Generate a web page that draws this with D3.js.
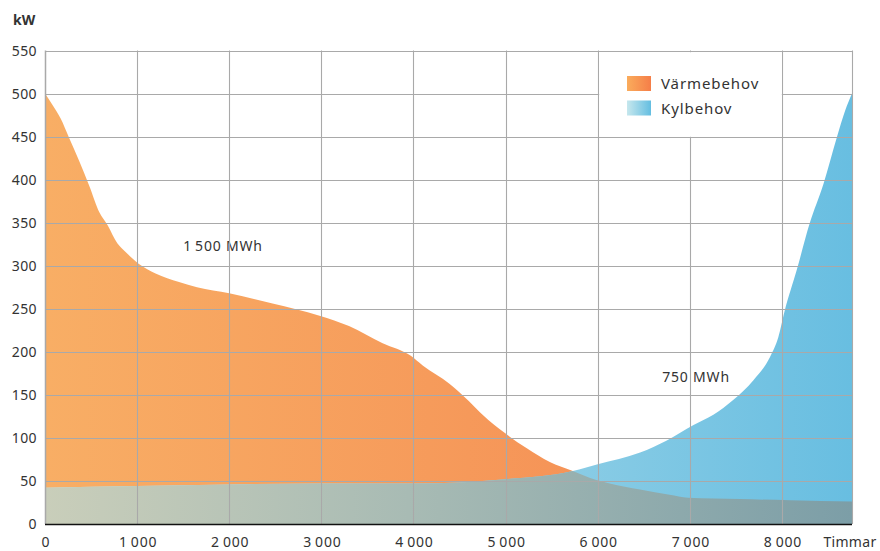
<!DOCTYPE html>
<html>
<head>
<meta charset="utf-8">
<script src="https://cdn.jsdelivr.net/npm/d3@7"></script>
<style>
  body { margin: 0; background: #fff; }
  text { font-family: "Noto Sans", "Open Sans", sans-serif; fill: #333; }
</style>
</head>
<body>
<div id="chart"></div>
<script>
// Värmebehov (heating) duration curve
const heatHours = [0, 80, 170, 260, 370, 480, 590, 680, 785, 875, 1020, 1200, 1455, 1650, 2000, 2470, 2980, 3300, 3665, 3975, 4100, 4390, 4600, 4750, 5000, 5230, 5480, 5715, 5985, 6130, 6460, 6780, 6980, 7545, 8090, 8760];
const heatKW    = [500, 487, 471, 449, 422, 393, 362, 347, 326, 316, 302, 291, 281, 275, 268, 256, 242, 230, 210, 195, 184, 163, 143, 127, 105, 88, 72, 62, 51, 47, 40, 34, 30.5, 29, 27.5, 26];

// Kylbehov (cooling) duration curve
const coolHours = [0, 1000, 2000, 3000, 4000, 5000, 5730, 6000, 6460, 6750, 7040, 7255, 7470, 7690, 7870, 7960, 8030, 8160, 8300, 8450, 8595, 8685, 8760];
const coolKW    = [42, 44, 46, 47, 47, 52, 61.5, 69.5, 83, 97, 115, 127, 144, 167, 194, 217, 248, 295, 349, 395, 449, 480, 500];

const yTicks = [0, 50, 100, 150, 200, 250, 300, 350, 400, 450, 500, 550];
const xTicks = [0, 1000, 2000, 3000, 4000, 5000, 6000, 7000, 8000];
const xGrid  = [1000, 2000, 3000, 4000, 5000, 6000, 7000, 8000, 8760];
const legendLabels = ["Värmebehov", "Kylbehov"];
const annotations = [
  { text: "1\u2009500 MWh", h: 1500, v: 317 },
  { text: "750 MWh", h: 6700, v: 165 }
];

const width = 880, height = 551;
const svg = d3.select("#chart").append("svg")
  .attr("width", width)
  .attr("height", height);

const x = d3.scaleLinear().domain([0, 8760]).range([45, 852]);
const y = d3.scaleLinear().domain([0, 550]).range([524, 50.5]);

const heat = heatHours.map((h, i) => ({ h, v: heatKW[i] }));
const cool = coolHours.map((h, i) => ({ h, v: coolKW[i] }));

// gradients
const defs = svg.append("defs");
function grad(id, stops, x1, x2) {
  const g = defs.append("linearGradient").attr("id", id)
    .attr("gradientUnits", "userSpaceOnUse")
    .attr("x1", x1).attr("x2", x2).attr("y1", 0).attr("y2", 0);
  stops.forEach(([o, c]) => g.append("stop").attr("offset", o).attr("stop-color", c));
}
grad("gHeat", [[0, "rgb(248,174,101)"], [1, "rgb(244,134,80)"]], x(0), x(8760));
grad("gCool", [[0, "rgb(200,230,236)"], [1, "rgb(104,190,225)"]], x(0), x(8760));
grad("gOver", [[0, "rgb(201,206,186)"], [0.45, "rgb(168,187,180)"], [1, "rgb(124,158,167)"]], x(0), x(8760));

const area = d3.area()
  .x(d => x(d.h))
  .y0(y(0))
  .y1(d => y(d.v))
  .curve(d3.curveMonotoneX);

defs.append("clipPath").attr("id", "clipHeat")
  .append("path").attr("d", area(heat));

// areas
svg.append("path").attr("d", area(heat)).attr("fill", "url(#gHeat)");
svg.append("path").attr("d", area(cool)).attr("fill", "url(#gCool)");
svg.append("path").attr("d", area(cool)).attr("fill", "url(#gOver)")
  .attr("clip-path", "url(#clipHeat)");

// annotations
svg.selectAll("text.note")
  .data(annotations)
  .enter()
  .append("text")
  .attr("class", "note")
  .attr("x", d => x(d.h))
  .attr("y", d => y(d.v))
  .attr("font-size", 14)
  .attr("letter-spacing", 0.8)
  .text(d => d.text);

// grid
const gridColor = "#a9a9a9";
svg.append("g").selectAll("line")
  .data(yTicks.filter(t => t > 0))
  .enter().append("line")
  .attr("x1", x(0)).attr("x2", x(8760))
  .attr("y1", d => Math.round(y(d)) + 0.5).attr("y2", d => Math.round(y(d)) + 0.5)
  .attr("stroke", gridColor).attr("stroke-width", 1.1);

svg.append("g").selectAll("line")
  .data(xGrid)
  .enter().append("line")
  .attr("x1", d => Math.round(x(d)) + 0.5).attr("x2", d => Math.round(x(d)) + 0.5)
  .attr("y1", y(550)).attr("y2", y(0))
  .attr("stroke", gridColor).attr("stroke-width", 1.1);

// left axis line
svg.append("line")
  .attr("x1", x(0) + 0.5).attr("x2", x(0) + 0.5)
  .attr("y1", y(550)).attr("y2", y(0))
  .attr("stroke", gridColor).attr("stroke-width", 1.5);

// bottom axis line
svg.append("line")
  .attr("x1", x(0)).attr("x2", x(8760))
  .attr("y1", y(0) + 0.5).attr("y2", y(0) + 0.5)
  .attr("stroke", "#111").attr("stroke-width", 1.5);

// legend box (white cell between 6000-8000, 450-550)
const lx0 = Math.round(x(6000)) + 1.2, lx1 = Math.round(x(8000)) - 0.2;
const ly0 = Math.round(y(550)) + 1.2, ly1 = Math.round(y(450)) - 0.2;
svg.append("rect")
  .attr("x", lx0).attr("y", ly0)
  .attr("width", lx1 - lx0).attr("height", ly1 - ly0)
  .attr("fill", "#fff");

grad("gLegHeat", [[0, "rgb(250,172,92)"], [1, "rgb(245,126,72)"]], 627, 651);
grad("gLegCool", [[0, "rgb(198,231,237)"], [1, "rgb(100,190,225)"]], 627, 651);
const legendFills = ["url(#gLegHeat)", "url(#gLegCool)"];

const leg = svg.append("g");
legendLabels.forEach((lab, i) => {
  leg.append("rect")
    .attr("x", 627).attr("y", 76 + i * 24.5)
    .attr("width", 24).attr("height", 15)
    .attr("fill", legendFills[i]);
  leg.append("text")
    .attr("x", 661).attr("y", 89 + i * 24.5)
    .attr("font-size", 15)
    .attr("letter-spacing", 0.9)
    .text(lab);
});

// y tick labels
svg.append("g").selectAll("text")
  .data(yTicks)
  .enter().append("text")
  .attr("x", 37)
  .attr("y", d => y(d) + 5)
  .attr("text-anchor", "end")
  .attr("font-size", 14)
  .attr("letter-spacing", 0.4)
  .text(d => d);

// x tick labels
const fmt = d => d >= 1000 ? Math.floor(d / 1000) + "\u2009" + String(d % 1000).padStart(3, "0") : String(d);
svg.append("g").selectAll("text")
  .data(xTicks)
  .enter().append("text")
  .attr("x", d => x(d) + 1)
  .attr("y", 547)
  .attr("text-anchor", "middle")
  .attr("font-size", 14)
  .attr("letter-spacing", 0.8)
  .text(fmt);

svg.append("text")
  .attr("x", 850).attr("y", 547)
  .attr("text-anchor", "middle")
  .attr("font-size", 14)
  .attr("letter-spacing", 0.3)
  .text("Timmar");

svg.append("text")
  .attr("x", 13).attr("y", 25)
  .attr("font-size", 14)
  .attr("font-weight", "bold")
  .text("kW");
</script>
</body>
</html>
